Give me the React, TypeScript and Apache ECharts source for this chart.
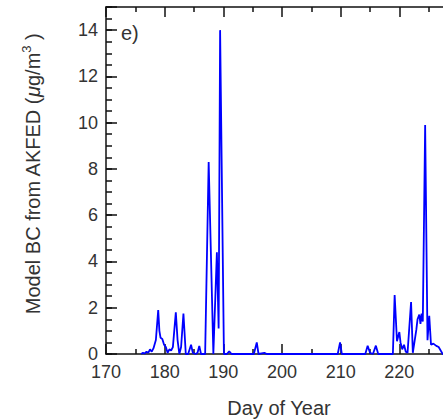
import React, { useEffect, useRef } from "react";
import * as echarts from "echarts";

const days = [
  176.0, 176.3, 176.6, 176.9, 177.2, 177.5, 177.8, 178.1, 178.5, 178.9,
  179.1, 179.3, 179.6, 179.9, 180.2, 180.5, 180.8, 181.1, 181.4, 181.9,
  182.2, 182.5, 182.8, 183.2, 183.6, 184.0, 184.5, 184.8, 185.3, 185.6,
  185.9, 186.2, 186.9, 187.5, 188.3, 188.9, 189.2, 189.45, 190.1, 190.6,
  191.0, 191.4, 195.2, 195.7, 196.0, 197.0, 197.4, 209.5, 209.9, 210.2,
  214.2, 214.6, 215.0, 215.5, 216.0, 216.4, 218.9, 219.2, 219.6, 220.0,
  220.2, 220.5, 220.8, 221.1, 221.4, 222.0, 222.3, 222.9, 223.1, 223.4,
  223.6, 223.8, 224.0, 224.4, 224.8, 225.1, 225.4, 225.8, 226.3, 226.7,
  227.4, 229.0,
];
const bcValues = [
  0, 0.05, 0.02, 0.1, 0.05, 0.2, 0.1, 0.25, 0.6, 1.9,
  1.0, 0.7, 0.65, 0.4, 0.3, 0.05, 0.2, 0.15, 0.3, 1.8,
  0.6, 0, 0.3, 1.75, 0, 0, 0.4, 0.05, 0, 0.05,
  0.35, 0, 0, 8.3, 0, 4.4, 1.1, 14.0, 0, 0,
  0.12, 0, 0, 0.5, 0, 0.05, 0, 0, 0.5, 0,
  0, 0.36, 0.05, 0, 0.36, 0, 0, 2.55, 0.55, 0.95,
  0.5, 0.2, 0.4, 0.1, 0.05, 2.25, 0.05, 1.05, 1.5, 1.7,
  1.3, 1.75, 1.4, 9.9, 0.6, 1.65, 0.4, 0.45, 0.35, 0.3,
  0, 0,
];

const xMin = 170;
const xMax = 230;
const xLastShownLabel = 220;
const yMin = 0;
const yMax = 15;
const yLastShownLabel = 14;

const FONT = "'Liberation Sans', Arial, sans-serif";
const TEXT = "#333";
const AXIS = "#111";

export default function App() {
  const ref = useRef<HTMLDivElement>(null);
  useEffect(() => {
    if (!ref.current) return;
    const chart = echarts.init(ref.current, undefined, { renderer: "svg" });
    const data = days.map((d, i) => [d, bcValues[i]]);
    const axisLine = { show: true, onZero: false, lineStyle: { color: AXIS, width: 1.5 } };
    chart.setOption({
      animation: false,
      backgroundColor: "#fff",
      grid: { left: 106, top: 7, width: 352, height: 347, containLabel: false },
      xAxis: [
        {
          type: "value",
          position: "bottom",
          min: xMin,
          max: xMax,
          interval: 10,
          axisLine,
          axisTick: { show: true, inside: true, length: 10, lineStyle: { color: AXIS, width: 1.5 } },
          minorTick: { show: true, splitNumber: 2, length: 5, lineStyle: { color: AXIS, width: 1.5 } },
          axisLabel: {
            color: TEXT,
            fontSize: 18,
            fontFamily: FONT,
            margin: 9,
            formatter: (v: number) => (v > xLastShownLabel ? "" : String(v)),
          },
          splitLine: { show: false },
        },
        {
          type: "value",
          position: "top",
          min: xMin,
          max: xMax,
          interval: 10,
          axisLine,
          axisTick: { show: true, inside: true, length: 10, lineStyle: { color: AXIS, width: 1.5 } },
          minorTick: { show: true, splitNumber: 2, length: 5, lineStyle: { color: AXIS, width: 1.5 } },
          axisLabel: { show: false },
          splitLine: { show: false },
        },
      ],
      yAxis: [
        {
          type: "value",
          position: "left",
          min: yMin,
          max: yMax,
          interval: 2,
          axisLine,
          axisTick: { show: true, inside: true, length: 11, lineStyle: { color: AXIS, width: 1.5 } },
          axisLabel: {
            color: TEXT,
            fontSize: 18,
            fontFamily: FONT,
            margin: 8,
            formatter: (v: number) => (v > yLastShownLabel ? "" : String(v)),
          },
          splitLine: { show: false },
        },
        {
          type: "value",
          position: "left",
          min: yMin,
          max: yMax,
          interval: 0.5,
          axisLine: { show: false },
          axisTick: { show: true, inside: true, length: 6, lineStyle: { color: AXIS, width: 1.5 } },
          axisLabel: { show: false },
          splitLine: { show: false },
        },
      ],
      series: [
        {
          type: "line",
          xAxisIndex: 0,
          yAxisIndex: 0,
          data,
          showSymbol: false,
          symbol: "none",
          clip: true,
          lineStyle: { color: "#0000ff", width: 1.8 },
          z: 1,
        },
      ],
      graphic: [
        {
          type: "text",
          x: 121,
          y: 33,
          style: {
            text: "e)",
            fontSize: 20,
            fontFamily: FONT,
            fill: TEXT,
            align: "left",
            verticalAlign: "middle",
          },
        },
        {
          type: "text",
          x: 279,
          y: 408,
          style: {
            text: "Day of Year",
            fontSize: 20,
            fontFamily: FONT,
            fill: TEXT,
            align: "center",
            verticalAlign: "middle",
          },
        },
        {
          type: "text",
          x: 33,
          y: 174,
          rotation: Math.PI / 2,
          style: {
            text: "{n|Model BC from AKFED (}{mu|μ}{n|g/m}{sup|3}{n| )}",
            fontSize: 20,
            fontFamily: FONT,
            fill: TEXT,
            align: "center",
            verticalAlign: "middle",
            rich: {
              n: { fontSize: 20, fontFamily: FONT, fill: TEXT, lineHeight: 26 },
              mu: { fontSize: 20, fontFamily: FONT, fill: TEXT, fontStyle: "italic", lineHeight: 26 },
              sup: { fontSize: 13, fontFamily: FONT, fill: TEXT, lineHeight: 13, verticalAlign: "top" },
            },
          },
        },
      ],
    });
    return () => chart.dispose();
  }, []);
  return (
    <div style={{ position: "fixed", left: 0, top: 0, width: 443, height: 420, overflow: "hidden", background: "#fff" }}>
      <div ref={ref} style={{ width: 480, height: 420 }} />
    </div>
  );
}
